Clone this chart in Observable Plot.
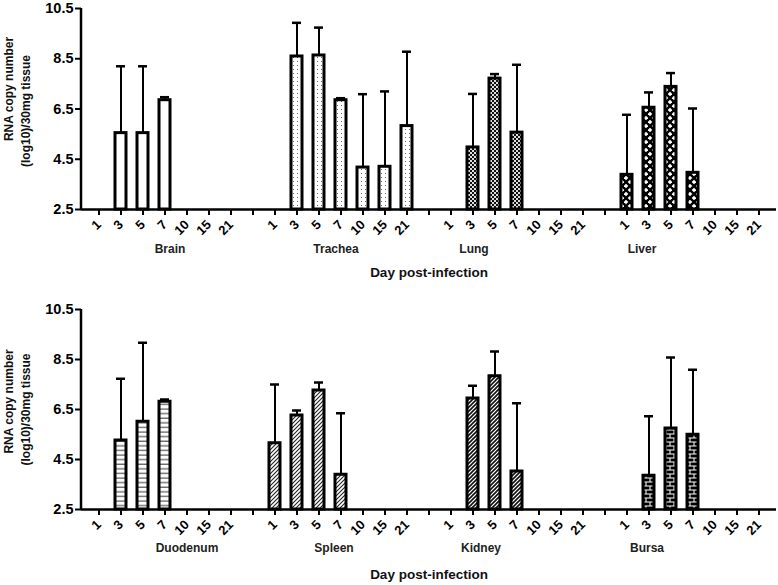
<!DOCTYPE html>
<html>
<head>
<meta charset="utf-8">
<script src="https://cdn.jsdelivr.net/npm/d3@7"></script>
<script src="https://cdn.jsdelivr.net/npm/@observablehq/plot@0.6"></script>
<style>
  html, body { margin: 0; padding: 0; background: white; }
  svg { display: block; }
</style>
</head>
<body>
<div id="chart"></div>
<script>
// ---------- DATA ----------
const days = ["1", "3", "5", "7", "10", "15", "21"];
const yTicks = [2.5, 4.5, 6.5, 8.5, 10.5];
const topOrgans = ["Brain", "Trachea", "Lung", "Liver"];
const bottomOrgans = ["Duodenum", "Spleen", "Kidney", "Bursa"];

// mean RNA copy number (log10)/30mg tissue per day; null = not detected
const brainMean     = [null, 5.54, 5.54, 6.85, null, null, null];
const brainUpper    = [null, 8.20, 8.20, 6.97, null, null, null];
const tracheaMean   = [null, 8.59, 8.63, 6.85, 4.17, 4.20, 5.82];
const tracheaUpper  = [null, 9.93, 9.74, 6.93, 7.09, 7.20, 8.78];
const lungMean      = [null, 4.97, 7.71, 5.56, null, null, null];
const lungUpper     = [null, 7.10, 7.89, 8.26, null, null, null];
const liverMean     = [3.88, 6.55, 7.38, 3.96, null, null, null];
const liverUpper    = [6.27, 7.16, 7.93, 6.52, null, null, null];
const duodenumMean  = [null, 5.26, 6.01, 6.81, null, null, null];
const duodenumUpper = [null, 7.73, 9.17, 6.90, null, null, null];
const spleenMean    = [5.15, 6.26, 7.26, 3.89, null, null, null];
const spleenUpper   = [7.50, 6.46, 7.58, 6.35, null, null, null];
const kidneyMean    = [null, 6.94, 7.83, 4.02, null, null, null];
const kidneyUpper   = [null, 7.45, 8.82, 6.75, null, null, null];
const bursaMean     = [null, 3.85, 5.74, 5.49, null, null, null];
const bursaUpper    = [null, 6.23, 8.58, 8.09, null, null, null];

// ---------- LAYOUT / STYLE ----------
const FONT = "'Liberation Sans', Arial, Helvetica, sans-serif";
const fills = {
  Brain: "white", Trachea: "url(#p-trachea)", Lung: "url(#p-lung)", Liver: "url(#p-liver)",
  Duodenum: "url(#p-duodenum)", Spleen: "url(#p-spleen)", Kidney: "url(#p-kidney)", Bursa: "url(#p-bursa)"
};
// organ label anchor slot (day) and shift in px
const labelAnchor = {
  Brain: ["7", 5], Trachea: ["7", -5], Lung: ["3", 1], Liver: ["3", -7],
  Duodenum: ["10", 0], Spleen: ["7", -7], Kidney: ["3", 8], Bursa: ["3", -2]
};

function slotDomain(organs) {
  const dom = [];
  organs.forEach((o, i) => {
    days.forEach(d => dom.push(`${o}|${d}`));
    if (i < organs.length - 1) dom.push(`gap${i}`);
  });
  return dom;
}
function rows(organ, mean, upper) {
  return days.map((d, i) => ({key: `${organ}|${d}`, organ, day: d, mean: mean[i], upper: upper[i]}))
    .filter(r => r.mean != null);
}

function defsMark() {
  return () => {
    const defs = d3.create("svg:defs");
    // trachea: sparse stipple
    let p = defs.append("pattern").attr("id", "p-trachea").attr("patternUnits", "userSpaceOnUse").attr("width", 4).attr("height", 4);
    p.append("rect").attr("width", 4).attr("height", 4).attr("fill", "white");
    p.append("rect").attr("x", 1).attr("y", 1).attr("width", 1).attr("height", 1).attr("fill", "#666");
    // lung: checkerboard
    p = defs.append("pattern").attr("id", "p-lung").attr("patternUnits", "userSpaceOnUse").attr("width", 4).attr("height", 4);
    p.append("rect").attr("width", 4).attr("height", 4).attr("fill", "#ddd");
    p.append("rect").attr("width", 2).attr("height", 2).attr("fill", "#111");
    p.append("rect").attr("x", 2).attr("y", 2).attr("width", 2).attr("height", 2).attr("fill", "#111");
    // liver: black with white diamonds
    p = defs.append("pattern").attr("id", "p-liver").attr("patternUnits", "userSpaceOnUse").attr("width", 8).attr("height", 8);
    p.append("rect").attr("width", 8).attr("height", 8).attr("fill", "black");
    p.append("polygon").attr("points", "2,-0.3 4.3,2 2,4.3 -0.3,2").attr("fill", "white");
    p.append("polygon").attr("points", "6,3.7 8.3,6 6,8.3 3.7,6").attr("fill", "white");
    p.append("polygon").attr("points", "10,3.7 12.3,6 10,8.3 7.7,6").attr("fill", "white");
    // duodenum: horizontal lines
    p = defs.append("pattern").attr("id", "p-duodenum").attr("patternUnits", "userSpaceOnUse").attr("width", 4).attr("height", 4.6);
    p.append("rect").attr("width", 4).attr("height", 4.6).attr("fill", "white");
    p.append("line").attr("x1", 0).attr("x2", 4).attr("y1", 2).attr("y2", 2).attr("stroke", "#333").attr("stroke-width", 1);
    // spleen: diagonal lines
    p = defs.append("pattern").attr("id", "p-spleen").attr("patternUnits", "userSpaceOnUse").attr("width", 4).attr("height", 4);
    p.append("rect").attr("width", 4).attr("height", 4).attr("fill", "white");
    p.append("path").attr("d", "M-1,1 L1,-1 M0,4 L4,0 M3,5 L5,3").attr("stroke", "#222").attr("stroke-width", 1.1);
    // kidney: denser diagonal
    p = defs.append("pattern").attr("id", "p-kidney").attr("patternUnits", "userSpaceOnUse").attr("width", 4).attr("height", 4);
    p.append("rect").attr("width", 4).attr("height", 4).attr("fill", "white");
    p.append("path").attr("d", "M-1,1 L1,-1 M0,4 L4,0 M3,5 L5,3").attr("stroke", "#111").attr("stroke-width", 1.6);
    // bursa: black with white brick
    p = defs.append("pattern").attr("id", "p-bursa").attr("patternUnits", "userSpaceOnUse").attr("width", 8).attr("height", 8);
    p.append("rect").attr("width", 8).attr("height", 8).attr("fill", "black");
    p.append("path").attr("d", "M0,2 H8 M0,6 H8 M2,2 V6 M6,6 V8 M6,0 V2").attr("stroke", "white").attr("stroke-width", 1);
    return defs.node();
  };
}

function yAxisLine() {
  return (index, scales, values, dims) => {
    return d3.create("svg:line")
      .attr("x1", dims.marginLeft).attr("x2", dims.marginLeft)
      .attr("y1", dims.marginTop).attr("y2", dims.height - dims.marginBottom)
      .attr("stroke", "black").attr("stroke-width", 2.5).node();
  };
}

function panel(organs, series, opts) {
  const domain = slotDomain(organs);
  const data = organs.flatMap((o, i) => rows(o, series[i][0], series[i][1]));
  const labels = organs.map(o => ({organ: o, key: `${o}|${labelAnchor[o][0]}`, shift: labelAnchor[o][1]}));
  const marks = [
    defsMark(),
    Plot.ruleX(data, {x: "key", y1: "mean", y2: "upper", stroke: "black", strokeWidth: 2}),
    Plot.tickY(data, {x: "key", y: "upper", stroke: "black", strokeWidth: 2.5, insetLeft: 1, insetRight: 1}),
    ...organs.map(o => Plot.barY(data.filter(d => d.organ === o), {
      x: "key", y1: 2.5, y2: "mean", fill: fills[o], stroke: "black", strokeWidth: 3
    })),
    Plot.ruleY([2.5], {stroke: "black", strokeWidth: 2.5}),
    yAxisLine(),
    Plot.axisY({ticks: yTicks, tickFormat: d3.format(".1f"), tickSize: 6, tickPadding: 2, strokeWidth: 2,
      fontSize: 14.5, fontWeight: "bold", label: null}),
    Plot.axisX({tickRotate: -45, tickSize: 6, tickPadding: 7, strokeWidth: 2, fontSize: 13, fontWeight: "bold",
      label: null, tickFormat: k => k.startsWith("gap") ? "" : k.split("|")[1]}),
    ...labels.map(l => Plot.text([l], {x: "key", y: 2.5, text: "organ", dx: l.shift, dy: opts.organDy,
      fontSize: 12, fontWeight: "bold", fill: "#222"})),
    Plot.text(["Day post-infection"], {frameAnchor: "bottom", dy: opts.dayDy, fontSize: 13.5, fontWeight: "bold", fill: "#111"}),
    Plot.text(["RNA copy number"], {frameAnchor: "left", rotate: -90, textAnchor: "middle", dx: -72, dy: opts.ylab1Dy,
      fontSize: 12, fontWeight: "bold", fill: "#111"}),
    Plot.text(["(log10)/30mg tissue"], {frameAnchor: "left", rotate: -90, textAnchor: "middle", dx: -55, dy: opts.ylab2Dy,
      fontSize: 12, fontWeight: "bold", fill: "#111"})
  ];
  return Plot.plot({
    width: 778,
    height: opts.height,
    marginLeft: 81,
    marginRight: 2,
    marginTop: opts.marginTop,
    marginBottom: opts.marginBottom,
    style: {fontFamily: FONT, background: "white", overflow: "visible", color: "black"},
    x: {type: "band", domain, paddingInner: 0.5, paddingOuter: 0.425, axis: null},
    y: {domain: [2.5, 10.5], axis: null},
    marks
  });
}

const chart = document.getElementById("chart");
chart.appendChild(panel(topOrgans,
  [[brainMean, brainUpper], [tracheaMean, tracheaUpper], [lungMean, lungUpper], [liverMean, liverUpper]],
  {height: 292, marginTop: 8, marginBottom: 83, organDy: 40, dayDy: 67, ylab1Dy: -20, ylab2Dy: 2}));
chart.appendChild(panel(bottomOrgans,
  [[duodenumMean, duodenumUpper], [spleenMean, spleenUpper], [kidneyMean, kidneyUpper], [bursaMean, bursaUpper]],
  {height: 293, marginTop: 17, marginBottom: 76, organDy: 39, dayDy: 69, ylab1Dy: -8, ylab2Dy: 0}));
</script>
</body>
</html>
